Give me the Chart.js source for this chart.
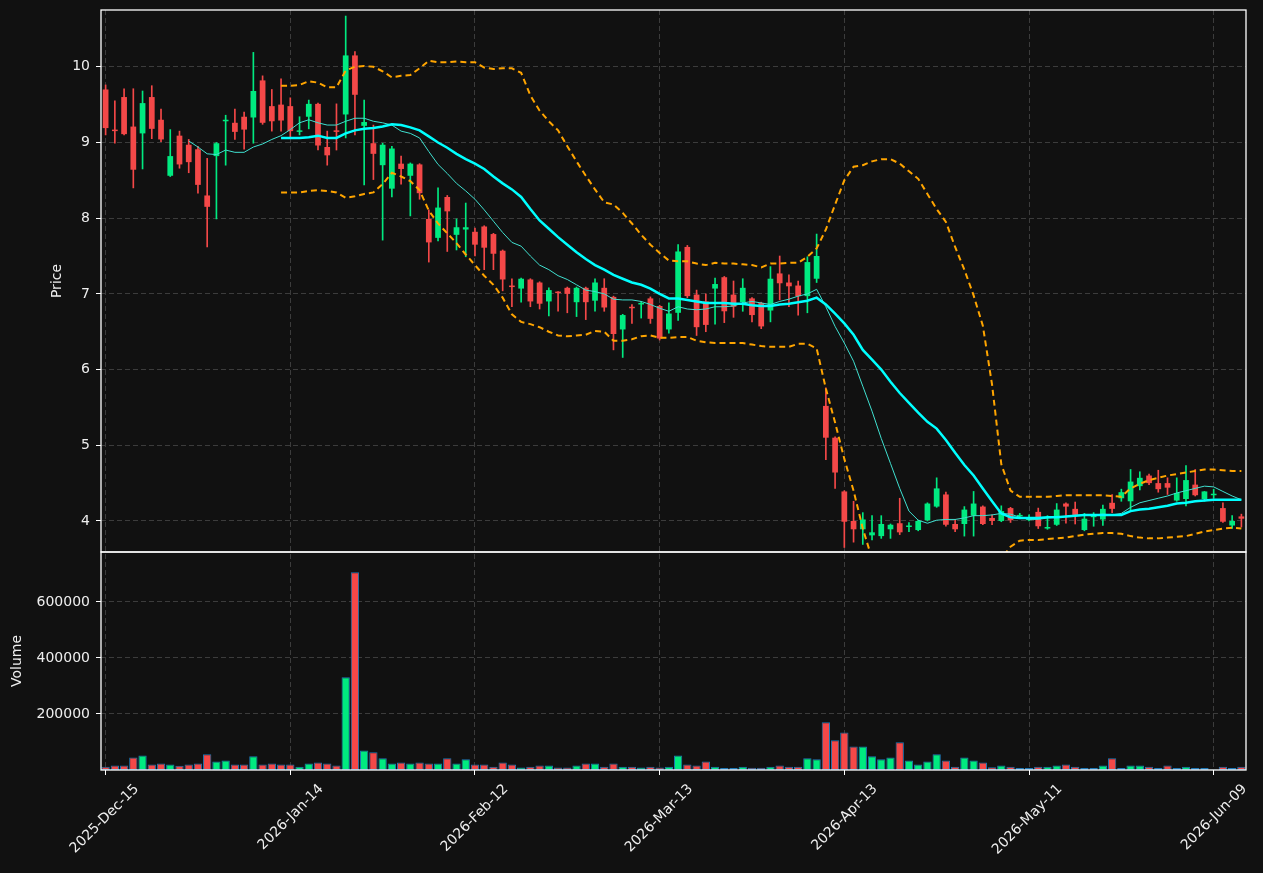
<!DOCTYPE html>
<html>
<head>
<meta charset="utf-8">
<script src="https://cdn.jsdelivr.net/npm/chart.js@4.4.1/dist/chart.umd.min.js"></script>
<style>
  html, body { margin: 0; padding: 0; background: #111111; }
  #wrap { width: 1263px; height: 873px; }
</style>
</head>
<body>
<div id="wrap"><canvas id="chPrice" width="1263" height="873"></canvas></div>
<script>
// trading calendar (weekends + market holidays skipped)
var startDay = '2025-12-15';
var holidays = ['2025-12-25', '2026-01-01', '2026-01-19', '2026-02-16', '2026-04-03', '2026-05-25'];
var monthNames = ['Jan','Feb','Mar','Apr','May','Jun','Jul','Aug','Sep','Oct','Nov','Dec'];

var opens = [9.70,9.16,9.60,9.21,9.12,9.60,9.30,8.56,9.09,8.97,
  8.91,8.30,8.82,9.28,9.26,9.34,9.33,9.82,9.48,9.50,
  9.48,9.14,9.34,9.51,8.94,9.16,9.37,10.15,9.22,8.99,
  8.70,8.39,8.72,8.56,8.71,7.99,7.74,8.28,7.78,7.85,
  7.82,7.89,7.79,7.57,7.10,7.07,7.19,7.15,6.90,7.02,
  7.08,6.89,7.08,6.91,7.08,6.96,6.53,6.82,6.86,6.94,
  6.84,6.53,6.75,7.62,6.99,6.90,7.07,7.22,6.99,6.89,
  6.94,6.88,6.78,7.27,7.15,7.11,6.97,7.20,5.52,5.10,
  4.39,4.00,3.89,3.81,3.80,3.89,3.97,3.92,3.88,4.01,
  4.19,4.35,3.96,3.96,4.07,4.19,4.04,4.00,4.17,4.06,
  4.01,4.12,3.90,3.95,4.23,4.16,3.88,4.05,4.02,4.24,
  4.30,4.26,4.46,4.60,4.50,4.50,4.27,4.29,4.48,4.29,
  4.34,4.17,3.94,4.06];
var highs = [9.76,9.55,9.71,9.71,9.68,9.75,9.44,9.17,9.15,9.04,
  8.95,8.79,9.00,9.36,9.44,9.40,10.19,9.88,9.70,9.84,
  9.59,9.34,9.56,9.52,9.15,9.51,10.67,10.20,9.56,9.23,
  8.99,8.95,8.82,8.73,8.72,8.11,8.40,8.30,7.99,8.20,
  7.87,7.90,7.80,7.58,7.20,7.21,7.20,7.16,7.08,7.03,
  7.09,7.09,7.09,7.20,7.20,6.97,6.73,6.86,6.90,6.96,
  6.85,6.88,7.65,7.64,7.05,7.00,7.21,7.23,7.17,7.20,
  6.95,6.89,7.36,7.50,7.25,7.17,7.49,7.79,5.76,5.11,
  4.40,4.26,4.11,4.07,4.07,3.96,4.30,3.98,4.01,4.24,
  4.57,4.38,4.02,4.19,4.39,4.20,4.08,4.20,4.18,4.10,
  4.08,4.17,4.07,4.23,4.24,4.25,4.10,4.11,4.21,4.35,
  4.42,4.68,4.65,4.62,4.67,4.57,4.57,4.73,4.68,4.39,
  4.42,4.24,4.07,4.09];
var lows = [9.10,8.99,9.10,8.40,8.65,9.05,9.01,8.55,8.66,8.60,
  8.33,7.62,7.99,8.70,9.04,8.91,8.99,9.24,9.15,9.15,
  9.05,9.10,9.18,8.90,8.70,8.90,9.06,9.10,8.44,8.51,
  7.71,8.28,8.45,8.03,8.25,7.42,7.70,7.56,7.58,7.49,
  7.50,7.32,7.32,7.04,6.83,6.89,6.83,6.80,6.71,6.77,
  6.75,6.70,6.66,6.77,6.77,6.26,6.16,6.61,6.68,6.61,
  6.39,6.48,6.65,6.95,6.45,6.50,6.60,6.62,6.69,6.77,
  6.63,6.54,6.63,6.92,6.83,6.72,6.75,7.15,4.81,4.43,
  3.65,3.72,3.69,3.75,3.77,3.77,3.82,3.86,3.87,4.00,
  4.18,3.93,3.86,3.80,3.80,3.95,3.95,3.99,3.98,4.03,
  4.00,3.90,3.89,3.94,3.97,3.96,3.87,3.93,3.94,4.11,
  4.26,4.13,4.41,4.48,4.38,4.35,4.26,4.20,4.33,4.26,
  4.30,3.98,3.90,3.92];
var closes = [9.19,9.15,9.11,8.64,9.52,9.18,9.04,8.82,8.71,8.74,
  8.44,8.15,8.99,9.30,9.14,9.17,9.68,9.26,9.28,9.29,
  9.15,9.16,9.51,8.96,8.83,9.14,10.15,9.63,9.27,8.85,
  8.97,8.92,8.65,8.72,8.33,7.68,8.14,8.09,7.88,7.88,
  7.65,7.61,7.53,7.19,7.09,7.20,6.90,6.87,7.05,7.01,
  7.00,7.08,6.89,7.15,6.82,6.47,6.72,6.81,6.88,6.67,
  6.41,6.74,7.56,6.97,6.56,6.59,7.13,6.77,6.83,7.08,
  6.72,6.57,7.20,7.14,7.10,6.97,7.42,7.50,5.10,4.64,
  3.99,3.89,4.02,3.85,3.96,3.95,3.85,3.94,4.00,4.23,
  4.43,3.95,3.89,4.15,4.23,3.96,4.00,4.13,4.01,4.08,
  4.05,3.93,3.92,4.15,4.19,4.08,4.03,4.08,4.16,4.16,
  4.38,4.52,4.57,4.50,4.42,4.44,4.37,4.54,4.34,4.39,
  4.35,3.99,4.00,4.03];
var volumes = [12000,16000,16000,45000,52000,20000,23000,20000,15000,20000,
  23000,56000,30000,34000,20000,20000,49000,20000,23000,20000,
  20000,12000,23000,27000,23000,16000,331000,706000,70000,63000,
  42000,23000,27000,23000,27000,23000,23000,42000,23000,38000,
  20000,20000,12000,27000,20000,9000,12000,16000,16000,9000,
  9000,16000,23000,23000,12000,23000,12000,12000,9000,12000,
  9000,12000,52000,20000,16000,30000,12000,7000,7000,12000,
  8000,8000,12000,16000,12000,12000,42000,38000,170000,106000,
  134000,84000,84000,49000,38000,45000,99000,34000,20000,30000,
  56000,34000,12000,45000,34000,27000,10000,16000,12000,7000,
  7000,12000,12000,16000,20000,12000,7000,7000,16000,42000,
  7000,16000,16000,12000,7000,16000,7000,12000,7000,7000,
  2000,12000,7000,12000];

// indicator lines
var maShort = [null,null,null,null,null,null,null,null,null,
  9.02,8.94,8.85,8.84,8.90,8.87,8.87,8.94,8.98,9.04,
  9.09,9.17,9.26,9.30,9.26,9.23,9.23,9.28,9.32,9.32,
  9.28,9.26,9.23,9.15,9.12,9.06,8.88,8.71,8.59,8.46,
  8.36,8.25,8.11,7.96,7.81,7.68,7.63,7.50,7.38,7.32,
  7.24,7.19,7.12,7.05,7.03,7.00,6.93,6.92,6.92,6.90,
  6.86,6.81,6.77,6.83,6.80,6.79,6.80,6.83,6.83,6.84,
  6.88,6.90,6.88,6.86,6.90,6.93,6.97,7.00,7.06,6.83,
  6.57,6.35,6.11,5.78,5.45,5.09,4.76,4.43,4.13,4.01,
  3.97,4.01,4.02,4.02,4.04,4.07,4.07,4.08,4.10,4.09,
  4.05,4.02,4.02,4.04,4.05,4.06,4.07,4.08,4.08,4.09,
  4.08,4.10,4.18,4.24,4.27,4.30,4.33,4.37,4.40,4.43,
  4.46,4.45,4.39,4.33,4.28];
var maLong = [null,null,null,null,null,null,null,null,null,null,
  null,null,null,null,null,null,null,null,null,
  9.06,9.06,9.06,9.07,9.09,9.06,9.06,9.12,9.16,9.18,
  9.19,9.21,9.24,9.23,9.20,9.16,9.08,9.00,8.93,8.85,
  8.78,8.72,8.65,8.55,8.46,8.38,8.28,8.12,7.97,7.86,
  7.75,7.65,7.55,7.46,7.38,7.32,7.25,7.20,7.15,7.12,
  7.07,7.00,6.94,6.94,6.92,6.90,6.88,6.88,6.88,6.87,
  6.87,6.85,6.84,6.84,6.86,6.87,6.89,6.91,6.95,6.86,
  6.74,6.61,6.46,6.26,6.13,6.00,5.84,5.69,5.56,5.43,
  5.31,5.22,5.07,4.90,4.74,4.60,4.43,4.26,4.10,4.05,
  4.04,4.04,4.04,4.05,4.05,4.06,4.07,4.08,4.08,4.08,
  4.08,4.08,4.13,4.15,4.16,4.18,4.20,4.23,4.24,4.26,
  4.27,4.28,4.28,4.28,4.28];
var bandUpper = [null,null,null,null,null,null,null,null,null,null,
  null,null,null,null,null,null,null,null,null,
  9.75,9.75,9.76,9.81,9.79,9.73,9.73,9.95,10.00,10.01,
  10.00,9.94,9.86,9.88,9.89,9.98,10.08,10.06,10.06,10.07,
  10.06,10.06,9.99,9.97,9.98,9.98,9.92,9.62,9.42,9.28,
  9.16,8.95,8.75,8.56,8.38,8.21,8.18,8.07,7.93,7.78,
  7.65,7.54,7.44,7.43,7.43,7.40,7.38,7.41,7.40,7.40,
  7.39,7.38,7.35,7.40,7.40,7.41,7.41,7.49,7.60,7.85,
  8.18,8.50,8.68,8.70,8.75,8.78,8.78,8.72,8.62,8.52,
  8.32,8.12,7.95,7.62,7.32,6.98,6.58,5.80,4.75,4.40,
  4.32,4.32,4.32,4.32,4.33,4.34,4.34,4.34,4.34,4.34,
  4.33,4.32,4.43,4.49,4.54,4.57,4.60,4.62,4.64,4.66,
  4.68,4.68,4.67,4.66,4.66];
var bandLower = [null,null,null,null,null,null,null,null,null,null,
  null,null,null,null,null,null,null,null,null,
  8.34,8.34,8.34,8.36,8.37,8.36,8.34,8.27,8.29,8.32,
  8.34,8.45,8.60,8.55,8.49,8.37,8.10,7.93,7.80,7.67,
  7.52,7.38,7.24,7.12,6.95,6.73,6.63,6.60,6.56,6.50,
  6.45,6.44,6.45,6.46,6.51,6.50,6.38,6.38,6.40,6.44,
  6.45,6.42,6.42,6.43,6.43,6.38,6.36,6.35,6.35,6.35,
  6.35,6.33,6.31,6.30,6.30,6.30,6.34,6.34,6.28,5.75,
  5.30,4.82,4.40,3.90,3.50,3.25,2.95,2.70,2.55,2.40,
  2.35,2.35,2.25,2.20,2.20,2.25,2.30,2.75,3.50,3.66,
  3.74,3.75,3.75,3.76,3.77,3.78,3.80,3.82,3.83,3.84,
  3.84,3.83,3.80,3.78,3.77,3.77,3.78,3.79,3.80,3.83,
  3.86,3.88,3.90,3.91,3.90];

var priceTicks = [4, 5, 6, 7, 8, 9, 10];
var volumeTicks = [200000, 400000, 600000];

var upColor = '#00ea80';
var downColor = '#f44848';
var gridColor = '#3c3c3c';
var textColor = '#eeeeee';

// build the date labels
var dates = [];
var day = new Date(startDay + 'T00:00:00Z');
while (dates.length < opens.length) {
  var iso = day.toISOString().slice(0, 10);
  var wd = day.getUTCDay();
  if (wd !== 0 && wd !== 6 && holidays.indexOf(iso) < 0) {
    dates.push(day.getUTCFullYear() + '-' + monthNames[day.getUTCMonth()] + '-' +
      String(day.getUTCDate()).padStart(2, '0'));
  }
  day.setUTCDate(day.getUTCDate() + 1);
}

var candleColors = opens.map(function(o, i) { return closes[i] >= o ? upColor : downColor; });
var wickData = lows.map(function(l, i) { return [l, highs[i]]; });
var bodyData = opens.map(function(o, i) { return [o, closes[i]]; });

Chart.defaults.font.family = 'DejaVu Sans';
Chart.defaults.color = textColor;

// white frame round each pane
var paneFrame = {
  id: 'paneFrame',
  afterDraw: function(chart) {
    var ctx = chart.ctx, a = chart.chartArea;
    ctx.save();
    ctx.strokeStyle = '#ffffff';
    ctx.lineWidth = 1.3;
    ['y', 'yVol'].forEach(function(id) {
      var s = chart.scales[id];
      ctx.strokeRect(a.left, s.top, a.right - a.left, s.bottom - s.top);
    });
    ctx.restore();
  }
};

function fixedTicks(list) {
  return function(s) { s.ticks = list.map(function(v) { return { value: v }; }); };
}
function fixedWidth(s) {
  s.width = 96;
  s.paddingTop = 0;
  s.paddingBottom = 0;
}

new Chart(document.getElementById('chPrice'), {
  type: 'bar',
  data: {
    labels: dates,
    datasets: [
      { type: 'line', data: maLong, borderColor: '#00ffff', borderWidth: 2.5, pointRadius: 0, yAxisID: 'y', order: 0 },
      { type: 'line', data: maShort, borderColor: '#40e0d0', borderWidth: 1, pointRadius: 0, yAxisID: 'y', order: 0 },
      { type: 'line', data: bandUpper, borderColor: '#ffa500', borderWidth: 2, borderDash: [6, 4], pointRadius: 0, yAxisID: 'y', order: 0 },
      { type: 'line', data: bandLower, borderColor: '#ffa500', borderWidth: 2, borderDash: [6, 4], pointRadius: 0, yAxisID: 'y', order: 0 },
      { data: bodyData, backgroundColor: candleColors, yAxisID: 'y', grouped: false,
        barPercentage: 0.62, categoryPercentage: 1, minBarLength: 1.5, borderWidth: 0, order: 1 },
      { data: wickData, backgroundColor: candleColors, yAxisID: 'y', grouped: false,
        barThickness: 1, borderWidth: 0, order: 2 },
      { data: volumes, backgroundColor: candleColors, borderColor: '#1f77b4', borderWidth: 1,
        borderSkipped: false, yAxisID: 'yVol', grouped: false,
        barPercentage: 0.9, categoryPercentage: 1, order: 3 }
    ]
  },
  options: {
    responsive: false,
    animation: false,
    devicePixelRatio: 1,
    layout: { padding: { left: 5, top: 10, right: 17, bottom: 0 } },
    plugins: { legend: { display: false }, tooltip: { enabled: false } },
    scales: {
      x: {
        offset: true,
        grid: { offset: false, color: gridColor, tickColor: '#ffffff', tickLength: 5, tickBorderDash: [] },
        border: { display: false, dash: [5, 3] },
        ticks: {
          autoSkip: false, minRotation: 45, maxRotation: 45, padding: 6, labelOffset: 31,
          color: textColor, font: { size: 14 },
          callback: function(v, i) { return i % 20 === 0 ? dates[i] : null; }
        },
        afterFit: function(s) { s.height = 103; }
      },
      yVol: {
        position: 'left', stack: 'panes', stackWeight: 218,
        min: 0, max: 778000,
        grid: { color: gridColor, tickColor: '#ffffff', tickLength: 5, tickBorderDash: [] },
        border: { display: false, dash: [5, 3] },
        ticks: { padding: 6, font: { size: 14 }, color: textColor,
          callback: function(v) { return String(v); } },
        afterBuildTicks: fixedTicks(volumeTicks),
        title: { display: true, text: 'Volume', color: textColor, font: { size: 14 }, padding: { top: 4, bottom: 0 } },
        afterFit: fixedWidth
      },
      y: {
        position: 'left', stack: 'panes', stackWeight: 542,
        min: 3.59, max: 10.75,
        grid: { color: gridColor, tickColor: '#ffffff', tickLength: 5, tickBorderDash: [] },
        border: { display: false, dash: [5, 3] },
        ticks: { padding: 6, font: { size: 14 }, color: textColor },
        afterBuildTicks: fixedTicks(priceTicks),
        title: { display: true, text: 'Price', color: textColor, font: { size: 14 }, padding: { top: 44, bottom: 0 } },
        afterFit: fixedWidth
      }
    }
  },
  plugins: [paneFrame]
});
</script>
</body>
</html>
